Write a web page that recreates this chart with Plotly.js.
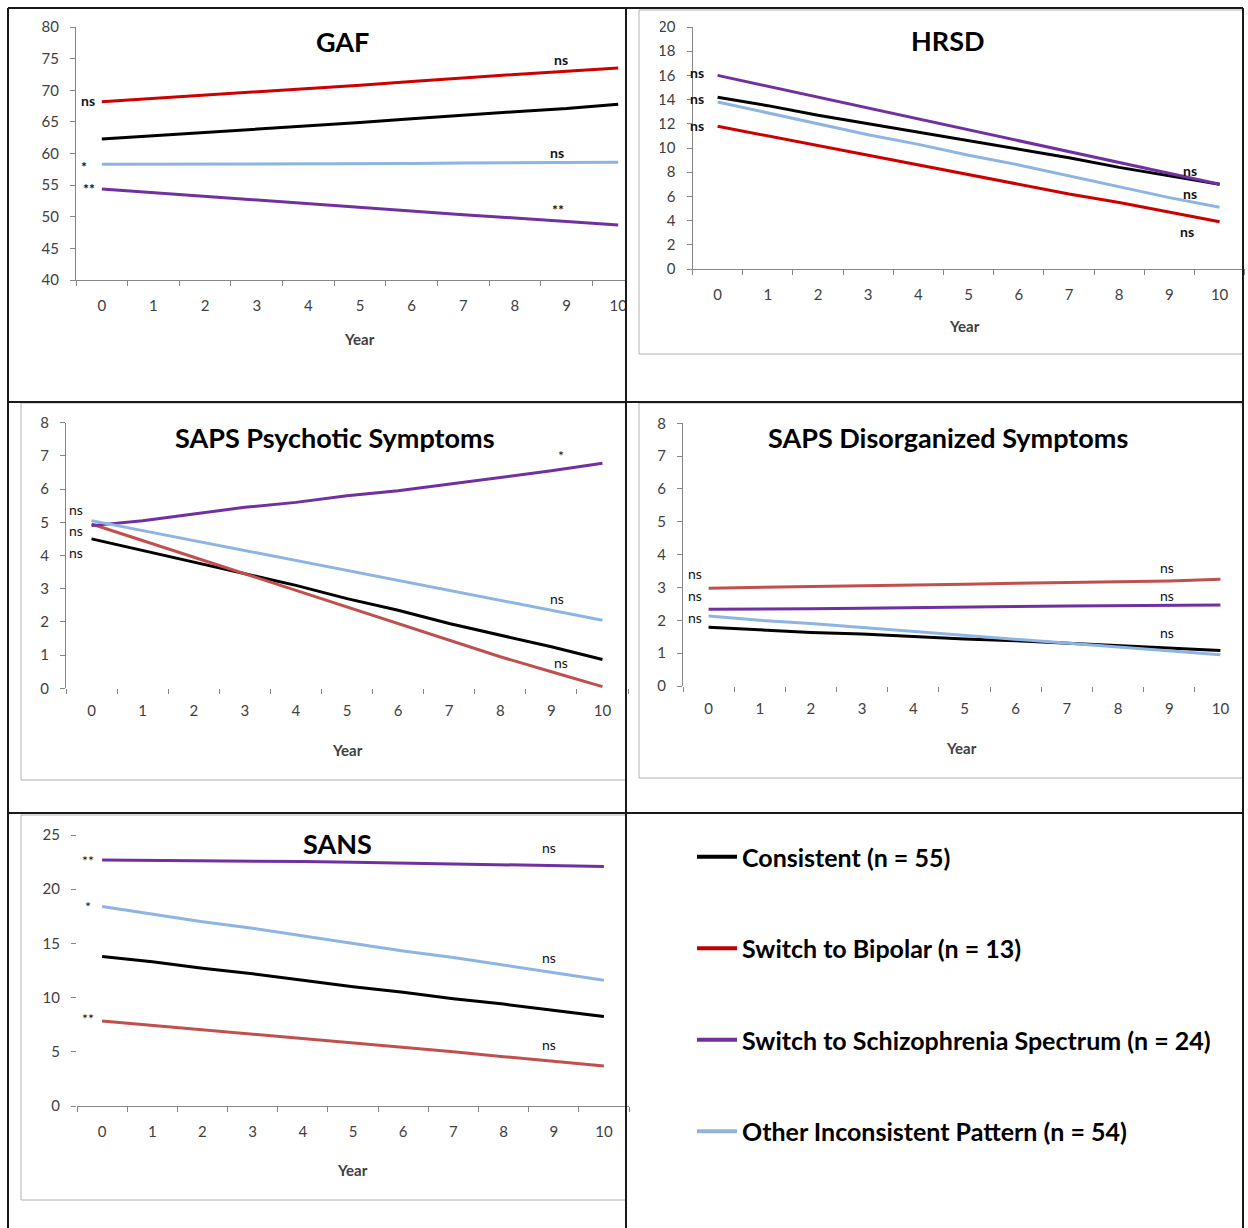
<!DOCTYPE html>
<html><head><meta charset="utf-8">
<script src="https://cdn.plot.ly/plotly-3.0.1.min.js"></script>
<style>html,body{margin:0;padding:0;background:#fff}#chart{width:1248px;height:1228px}</style>
</head><body><div id="chart"></div>
<script>
// ---- data ----
const years = ['0','1','2','3','4','5','6','7','8','9','10'];
const groupNames = ['Consistent (n = 55)','Switch to Bipolar (n = 13)','Switch to Schizophrenia Spectrum (n = 24)','Other Inconsistent Pattern (n = 54)'];

const gafConsistent = [62.3,62.8,63.4,63.9,64.4,64.9,65.5,66.1,66.6,67.1,67.8];
const gafBipolar    = [68.2,68.7,69.3,69.8,70.3,70.8,71.4,72.0,72.5,73.0,73.5];
const gafSchizo     = [54.4,53.8,53.2,52.6,52.0,51.5,50.9,50.3,49.8,49.2,48.7];
const gafOther      = [58.3,58.3,58.4,58.4,58.4,58.4,58.4,58.5,58.5,58.5,58.6];

const hrsdConsistent = [14.2,13.5,12.7,12.0,11.3,10.6,9.9,9.2,8.4,7.7,7.0];
const hrsdBipolar    = [11.8,11.0,10.2,9.4,8.6,7.8,7.0,6.2,5.5,4.7,3.9];
const hrsdSchizo     = [16.0,15.1,14.2,13.3,12.4,11.5,10.6,9.7,8.8,7.9,7.0];
const hrsdOther      = [13.8,12.9,12.0,11.1,10.3,9.4,8.6,7.7,6.8,5.9,5.1];

const sapsPConsistent = [4.5,4.15,3.8,3.45,3.1,2.7,2.35,1.95,1.6,1.25,0.87];
const sapsPBipolar    = [4.95,4.45,3.95,3.45,2.95,2.45,1.95,1.45,0.95,0.5,0.05];
const sapsPSchizo     = [4.9,5.05,5.25,5.45,5.6,5.8,5.95,6.15,6.35,6.55,6.78];
const sapsPOther      = [5.05,4.75,4.45,4.15,3.85,3.55,3.25,2.95,2.65,2.35,2.05];

const sapsDConsistent = [1.79,1.7,1.63,1.58,1.5,1.43,1.38,1.3,1.24,1.16,1.08];
const sapsDBipolar    = [2.98,3.0,3.03,3.05,3.07,3.1,3.13,3.15,3.17,3.2,3.25];
const sapsDSchizo     = [2.34,2.34,2.35,2.37,2.38,2.4,2.42,2.44,2.45,2.45,2.47];
const sapsDOther      = [2.13,2.0,1.9,1.78,1.66,1.55,1.43,1.3,1.18,1.07,0.95];

const sansConsistent = [13.8,13.3,12.7,12.2,11.6,11.0,10.5,9.9,9.4,8.8,8.25];
const sansBipolar    = [7.85,7.45,7.05,6.65,6.2,5.8,5.4,5.0,4.55,4.15,3.7];
const sansSchizo     = [22.7,22.68,22.65,22.6,22.55,22.48,22.4,22.33,22.25,22.15,22.1];
const sansOther      = [18.4,17.7,17.0,16.4,15.7,15.0,14.3,13.7,13.0,12.3,11.6];

const panelTitles = ['GAF','HRSD','SAPS Psychotic Symptoms','SAPS Disorganized Symptoms','SANS'];

// ---- helpers ----
const W = 1248, H = 1228;
const px = x => x / W;
const py = y => 1 - y / H;
const FONT = 'Lato, "Open Sans", sans-serif';

const panels = [
  {series:[gafConsistent,gafBipolar,gafSchizo,gafOther], colors:['#000000','#CC0000','#7030A0','#8DB4E2']},
  {series:[hrsdConsistent,hrsdBipolar,hrsdSchizo,hrsdOther], colors:['#000000','#CC0000','#7030A0','#8DB4E2']},
  {series:[sapsPConsistent,sapsPBipolar,sapsPSchizo,sapsPOther], colors:['#000000','#C0504D','#7030A0','#8DB4E2']},
  {series:[sapsDConsistent,sapsDBipolar,sapsDSchizo,sapsDOther], colors:['#000000','#C0504D','#7030A0','#8DB4E2']},
  {series:[sansConsistent,sansBipolar,sansSchizo,sansOther], colors:['#000000','#C0504D','#7030A0','#8DB4E2']}
];

const traces = [];
panels.forEach((p, i) => {
  const ax = i === 0 ? '' : String(i + 1);
  p.series.forEach((s, k) => {
    traces.push({
      type:'scatter', mode:'lines', x: years, y: s,
      xaxis:'x'+ax, yaxis:'y'+ax,
      name: groupNames[k], legendgroup:'g'+k,
      showlegend: i === 0,
      line:{color: p.colors[k], width:3},
      hoverinfo:'skip'
    });
  });
});

const tickFont = {family: FONT, size: 15, color:'#404040'};
function xAxis(domainPx, anchor, showline) {
  return {type:'category', domain:[px(domainPx[0]), px(domainPx[1])], anchor: anchor,
    range:[-0.5,10.5], tickson:'boundaries', ticks:'outside', ticklen:5, tickcolor:'#868686',
    showline: showline, linecolor:'#868686', linewidth:1, showgrid:false, zeroline:false,
    tickfont: tickFont, ticklabelstandoff: 12, fixedrange:true};
}
function yAxis(domainPy, anchor, range, dtick, showline) {
  return {domain:[py(domainPy[1]), py(domainPy[0])], anchor: anchor, range: range, dtick: dtick,
    tick0:0, ticks:'outside', ticklen:5, tickcolor:'#868686', showline: showline,
    linecolor:'#868686', linewidth:1, showgrid:false, zeroline:false, tickfont: tickFont,
    ticklabelstandoff: 8, fixedrange:true};
}

const layout = {
  width: W, height: H, margin:{l:0,r:0,t:0,b:0}, paper_bgcolor:'#fff', plot_bgcolor:'rgba(0,0,0,0)',
  font:{family: FONT},
  xaxis:  xAxis([76,644],'y',true),
  yaxis:  yAxis([27,280],'x',[40,80],5,true),
  xaxis2: xAxis([692.5,1244.7],'y2',true),
  yaxis2: yAxis([27,269],'x2',[0,20],2,true),
  xaxis3: xAxis([66,628],'y3',false),
  yaxis3: yAxis([422.7,688.3],'x3',[0,8],1,true),
  xaxis4: xAxis([683,1246],'y4',false),
  yaxis4: yAxis([423.3,686],'x4',[0,8],1,true),
  xaxis5: xAxis([77,629],'y5',true),
  yaxis5: yAxis([835,1106],'x5',[0,25],5,false),
  showlegend: true,
  legend:{x: px(692), y: py(834), xanchor:'left', yanchor:'top', bgcolor:'rgba(0,0,0,0)',
    font:{family: FONT, size: 25, color:'#000', weight:'bold'}, tracegroupgap: 56, itemwidth: 40},
  shapes: [], annotations: []
};

// clip overflow of left column at the divider
layout.shapes.push({type:'rect', xref:'paper', yref:'paper', x0:px(627), x1:px(660), y0:py(401), y1:py(9), fillcolor:'#fff', line:{width:0}, layer:'above'});
// inner grey chart-area frames
const grey = {color:'#B0B0B0', width:1};
[[639,10,1243,354],[21,403,626,780],[639,403,1243,778],[21,815,626,1200]].forEach(r => {
  layout.shapes.push({type:'rect', xref:'paper', yref:'paper', x0:px(r[0]), x1:px(r[2]), y0:py(r[3]), y1:py(r[1]), line:grey, layer:'above'});
});
// black panel frame
const blk = {color:'#1a1a1a', width:2};
function hline(y,x0,x1){layout.shapes.push({type:'line',xref:'paper',yref:'paper',x0:px(x0),x1:px(x1),y0:py(y),y1:py(y),line:blk,layer:'above'});}
function vline(x,y0,y1){layout.shapes.push({type:'line',xref:'paper',yref:'paper',x0:px(x),x1:px(x),y0:py(y0),y1:py(y1),line:blk,layer:'above'});}
vline(8,8,1228); vline(626,8,1228); vline(1243,8,1228);
hline(8,8,1243); hline(402,8,1243); hline(813,8,1243);

// titles
const titlePos = [[342,41],[948,40],[335,437],[948,438],[337,843]];
panelTitles.forEach((t,i) => layout.annotations.push({text:t, xref:'paper', yref:'paper', x:px(titlePos[i][0]), y:py(titlePos[i][1]),
  xanchor:'center', yanchor:'middle', showarrow:false, font:{family:FONT, size:27, color:'#000', weight:'bold'}}));
// Year axis titles
[[360,339],[964,326],[347,750],[961,748],[352,1170]].forEach(p => layout.annotations.push({text:'Year', xref:'paper', yref:'paper',
  x:px(p[0]), y:py(p[1]), xanchor:'center', yanchor:'middle', showarrow:false, font:{family:FONT, size:15, color:'#404040', weight:'bold'}}));
// significance marks
const sig = [
  ['ns',88,100,1],['*',84,166,1],['**',89,189,1],['ns',561,59,1],['ns',557,153,1],['**',558,210,1],
  ['ns',697,72,1],['ns',697,98,1],['ns',697,125,1],['ns',1190,170,1],['ns',1190,194,1],['ns',1187,232,1],
  ['ns',76,509,0],['ns',76,530,0],['ns',76,552,0],['*',561,455,0],['ns',557,598,0],['ns',561,662,0],
  ['ns',695,573,0],['ns',695,595,0],['ns',695,617,0],['ns',1167,567,0],['ns',1167,595,0],['ns',1167,632,0],
  ['**',88,860,0],['*',88,906,0],['**',88,1018,0],['ns',549,847,0],['ns',549,957,0],['ns',549,1044,0]
];
sig.forEach(s => layout.annotations.push({text:s[0], xref:'paper', yref:'paper', x:px(s[1]), y:py(s[2]),
  xanchor:'center', yanchor:'middle', showarrow:false, font:{family:FONT, size:14, color:'#111', weight: s[3] ? 'bold' : 'normal'}}));

Plotly.newPlot('chart', traces, layout, {staticPlot:true, displayModeBar:false}).then(() => {
  // legend swatches: legend colours of the original key, slightly thicker
  const legendColors = ['#000000','#C00000','#7030A0','#95B3D7'];
  document.querySelectorAll('.legend .traces').forEach((g, k) => {
    const p = g.querySelector('.legendlines path');
    if (p) { p.style.stroke = legendColors[k]; p.style.strokeWidth = '4px'; }
  });
});
</script></body></html>
